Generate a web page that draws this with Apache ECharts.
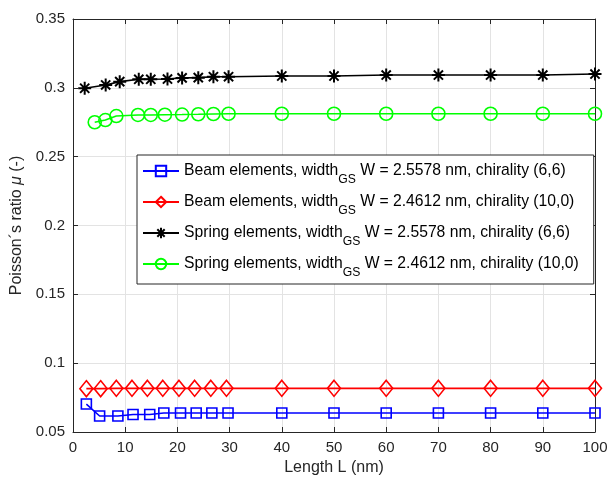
<!DOCTYPE html>
<html><head><meta charset="utf-8">
<script src="https://cdn.jsdelivr.net/npm/echarts@6/dist/echarts.min.js"></script>
<style>html,body{margin:0;padding:0;background:#fff}#c{width:608px;height:480px}</style>
</head><body><div id="c"></div>
<script>
const xTicks = [0,10,20,30,40,50,60,70,80,90,100];
const yTicks = [0.05,0.1,0.15,0.2,0.25,0.3,0.35];

const xBeam66 = [2.56,5.1,8.6,11.5,14.7,17.4,20.6,23.6,26.6,29.7,40,50,60,70,80,90,100];
const yBeam66 = [0.0703,0.0616,0.0616,0.0627,0.0627,0.0638,0.0638,0.0638,0.0638,0.0638,0.0638,0.0638,0.0638,0.0638,0.0638,0.0638,0.0638];

const xBeam100 = [2.56,5.3,8.3,11.3,14.25,17.2,20.3,23.3,26.4,29.4,40,50,60,70,80,90,100];
const yBeam100 = [0.0815,0.0815,0.0817,0.0817,0.0817,0.0817,0.0817,0.0817,0.0817,0.0817,0.0817,0.0817,0.0817,0.0817,0.0817,0.0817,0.0817];

const xSpring66 = [2.24,6.26,8.95,12.6,14.9,18.1,20.9,24.0,26.9,29.8,40,50,60,70,80,90,100];
const ySpring66 = [0.2997,0.3021,0.3045,0.3062,0.3062,0.3064,0.3072,0.3074,0.3081,0.3081,0.3086,0.3086,0.3093,0.3093,0.3093,0.3093,0.3100];

const xSpring100 = [4.16,6.2,8.3,12.45,14.9,17.6,20.9,24.0,26.9,29.8,40,50,60,70,80,90,100];
const ySpring100 = [0.2750,0.2766,0.2795,0.2803,0.2803,0.2805,0.2806,0.2808,0.2810,0.2812,0.2812,0.2812,0.2812,0.2812,0.2812,0.2812,0.2812];

const names = [
  'Beam elements, width{s|GS} W = 2.5578 nm, chirality (6,6)',
  'Beam elements, width{s|GS} W = 2.4612 nm, chirality (10,0)',
  'Spring elements, width{s|GS} W = 2.5578 nm, chirality (6,6)',
  'Spring elements, width{s|GS} W = 2.4612 nm, chirality (10,0)'
];

const FONT = 'Liberation Sans, Arial, Helvetica, sans-serif';
const TXT = '#262626';
const star = 'path://M0,-10L0,10M-10,0L10,0M-7.07,-7.07L7.07,7.07M-7.07,7.07L7.07,-7.07';

function pairs(xs, ys){ return xs.map((x,i)=>[x, ys[i]]); }

function mk(name, xs, ys, color, symbol, size, bw){
  return {
    name: name, type: 'line', data: pairs(xs, ys),
    symbol: symbol, symbolSize: size, showAllSymbol: true,
    lineStyle: {color: color, width: 1.6},
    itemStyle: {color: 'rgba(0,0,0,0)', borderColor: color, borderWidth: bw || 1.6},
    emphasis: {disabled: true}, animation: false, z: 3
  };
}

const chart = echarts.init(document.getElementById('c'), null, {renderer: 'canvas'});
const axisCommon = {
  axisLine: {show: true, onZero: false, lineStyle: {color: TXT, width: 1}},
  axisTick: {show: true, inside: true, length: 5, lineStyle: {color: TXT}},
};
chart.setOption({
  animation: false,
  backgroundColor: '#fff',
  textStyle: {fontFamily: FONT},
  grid: {left: 73, right: 13, top: 19, bottom: 48, containLabel: false, outerBoundsMode: 'none'},
  xAxis: [{
    type: 'value', min: 0, max: 100, interval: 10, position: 'bottom',
    ...axisCommon,
    axisLabel: {color: TXT, fontSize: 15, fontFamily: FONT, margin: 8},
    splitLine: {show: true, lineStyle: {color: '#e3e3e3', width: 1}},
    name: 'Length L (nm)', nameLocation: 'middle', nameGap: 28,
    nameTextStyle: {color: TXT, fontSize: 16, fontFamily: FONT}
  },{
    type: 'value', min: 0, max: 100, interval: 10, position: 'top',
    ...axisCommon, axisLabel: {show: false}, splitLine: {show: false}
  }],
  yAxis: [{
    type: 'value', min: 0.05, max: 0.35, interval: 0.05, position: 'left',
    ...axisCommon,
    axisLabel: {color: TXT, fontSize: 15, fontFamily: FONT, margin: 8},
    splitLine: {show: true, lineStyle: {color: '#e3e3e3', width: 1}},
    name: 'Poisson´s ratio {i|μ} (-)', nameLocation: 'middle', nameGap: 42,
    nameTextStyle: {color: TXT, fontSize: 16, fontFamily: FONT,
      rich: {i: {fontStyle: 'italic', fontSize: 16, fontFamily: FONT, color: TXT}}}
  },{
    type: 'value', min: 0.05, max: 0.35, interval: 0.05, position: 'right',
    ...axisCommon, axisLabel: {show: false}, splitLine: {show: false}
  }],
  legend: {
    orient: 'vertical', left: 137, top: 155,
    padding: [1, 15, 5, 5], itemGap: 1,
    itemWidth: 36, itemHeight: 13,
    backgroundColor: '#fff', borderColor: TXT, borderWidth: 1, borderRadius: 0,
    selectedMode: false,
    data: names,
    formatter: function(n){ return '{n|' + n.replace('{s|GS}', '}{s|GS}{n|') + '}'; },
    textStyle: {
      color: '#000', fontSize: 15.7, fontFamily: FONT,
      rich: {
        n: {fontSize: 15.7, fontFamily: FONT, color: '#000', lineHeight: 18},
        s: {fontSize: 12.2, fontFamily: FONT, color: '#000', lineHeight: 12, padding: [18,0,0,0]}
      }
    }
  },
  series: [
    mk(names[0], xBeam66, yBeam66, '#0000ff', 'rect', 10),
    mk(names[1], xBeam100, yBeam100, '#ff0000', 'diamond', [13,16]),
    mk(names[2], xSpring66, ySpring66, '#000000', star, 13, 2),
    mk(names[3], xSpring100, ySpring100, '#00ff00', 'circle', 13)
  ]
});
</script></body></html>
